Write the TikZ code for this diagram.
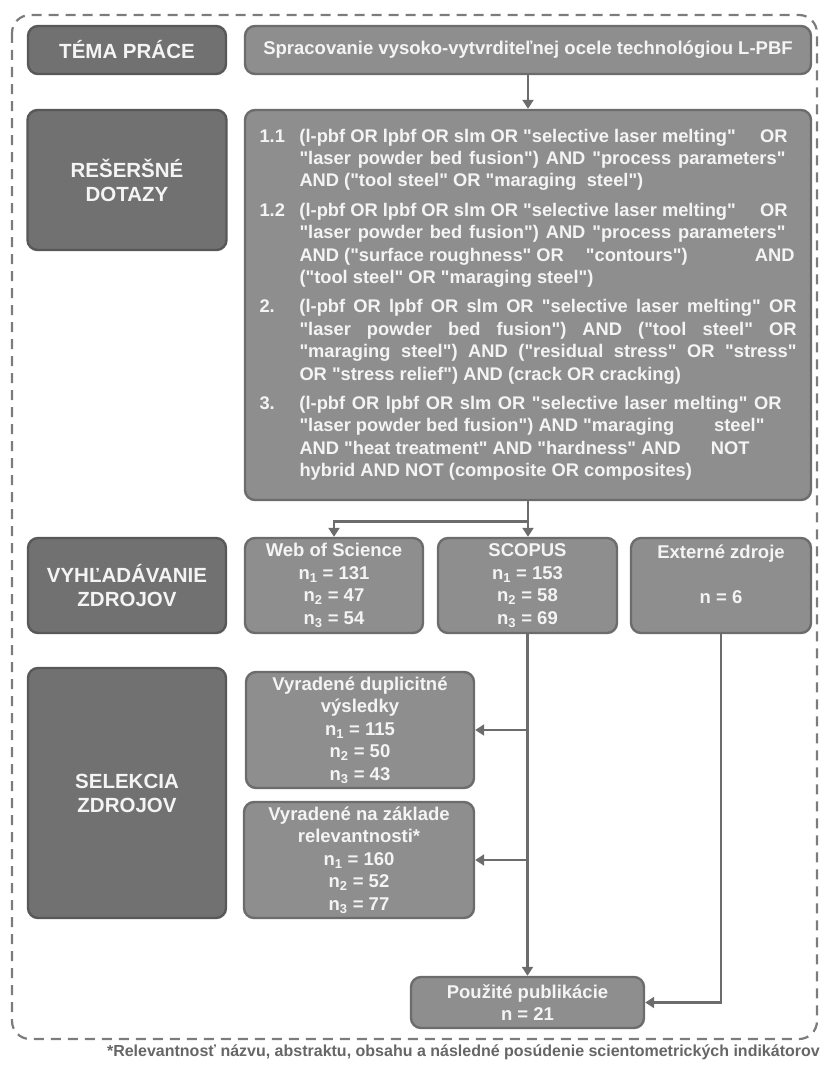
\documentclass[tikz,border=0pt]{standalone}
\usepackage{fontspec}
\setmainfont{Liberation Sans}[Ligatures=TeXOff]
\usetikzlibrary{arrows.meta,calc}
\definecolor{darkfill}{HTML}{717171}
\definecolor{darkborder}{HTML}{585858}
\definecolor{lightfill}{HTML}{8E8E8E}
\definecolor{lightborder}{HTML}{6C6C6C}
\definecolor{textcol}{HTML}{F4F4F4}
\definecolor{arrowcol}{HTML}{6C6C6C}
\definecolor{dashcol}{HTML}{7C7C7C}
\definecolor{footcol}{HTML}{666666}
\newcommand\fq{\fontsize{18.3}{22.4}\selectfont\bfseries}
\newcommand\fl{\fontsize{20.5}{24}\selectfont\bfseries}
\newcommand\fn{\fontsize{18.5}{22.5}\selectfont\bfseries}
\newcommand\qs[2]{\makebox[#1pt][s]{#2}}
\tikzset{
  labelbox/.style={draw=darkborder, fill=darkfill, line width=2.4pt, rounded corners=10pt,
    text=textcol, font=\fl, align=center, inner sep=0pt},
  infobox/.style={draw=lightborder, fill=lightfill, line width=2.4pt, rounded corners=10pt,
    text=textcol, font=\fn, align=center, inner sep=0pt},
  arr/.style={draw=arrowcol, line width=2.6pt, -{Triangle[length=9pt,width=11pt]}},
  frame/.style={draw=dashcol, line width=2.2pt, dash pattern=on 10pt off 7pt, rounded corners=18pt},
  foot/.style={text=footcol, font=\fontsize{16}{19}\selectfont\bfseries, inner sep=0pt, anchor=east}
}
\begin{document}
\begin{tikzpicture}[x=1pt,y=-1pt]
\useasboundingbox (0,0) rectangle (823,1065);
\draw[frame] (12,15) rectangle (817,1039);

% left column
\node[labelbox, minimum width=198pt, minimum height=48pt] (tema) at (127,50) {TÉMA PRÁCE};
\node[labelbox, minimum width=199pt, minimum height=140pt] (resers) at (127,180) {REŠERŠNÉ\\DOTAZY};
\node[labelbox, minimum width=198pt, minimum height=95pt] (vyhl) at (127,585.5) {VYHĽADÁVANIE\\ZDROJOV};
\node[labelbox, minimum width=198pt, minimum height=250pt] (selek) at (127,793) {SELEKCIA\\ZDROJOV};

% topic
\node[infobox, minimum width=566pt, minimum height=48pt] (topic) at (528,50) {Spracovanie vysoko-vytvrditeľnej ocele technológiou L-PBF};

% queries
\node[infobox, minimum width=566pt, minimum height=390pt, font=\fq] (queries) at (528,305) {%
\begin{tabular}{@{}p{40pt}@{}l@{}}
1.1 & \qs{488}{(l-pbf OR lpbf OR slm OR "selective laser melting"\hfill OR}\\
    & \qs{486}{"laser powder bed fusion") AND "process parameters"}\\
    & AND ("tool steel" OR "maraging\ \ steel")\\[7pt]
1.2 & \qs{488}{(l-pbf OR lpbf OR slm OR "selective laser melting"\hfill OR}\\
    & \qs{486}{"laser powder bed fusion") AND "process parameters"}\\
    & \qs{495}{AND ("surface roughness" OR\hspace{22pt}"contours")\hfill AND}\\
    & ("tool steel" OR "maraging steel")\\[7pt]
2.  & \qs{497}{(l-pbf OR lpbf OR slm OR "selective laser melting" OR}\\
    & \qs{497}{"laser powder bed fusion") AND ("tool steel" OR}\\
    & \qs{497}{"maraging steel") AND ("residual stress" OR "stress"}\\
    & OR "stress relief") AND (crack OR cracking)\\[7pt]
3.  & \qs{482}{(l-pbf OR lpbf OR slm OR "selective laser melting" OR}\\
    & \qs{465}{"laser powder bed fusion") AND "maraging\hfill steel"}\\
    & \qs{450}{AND "heat treatment" AND "hardness" AND\hfill NOT}\\
    & hybrid AND NOT (composite OR composites)
\end{tabular}};

% search row
\node[infobox, minimum width=178pt, minimum height=95pt] (wos) at (334,585.5) {Web of Science\\n\textsubscript{1} = 131\\n\textsubscript{2} = 47\\n\textsubscript{3} = 54};
\node[infobox, minimum width=179pt, minimum height=95pt] (scopus) at (527.5,585.5) {SCOPUS\\n\textsubscript{1} = 153\\n\textsubscript{2} = 58\\n\textsubscript{3} = 69};
\node[infobox, minimum width=180pt, minimum height=95pt] (ext) at (721,585.5) {Externé zdroje\\~\\n = 6\\~};

% selection
\node[infobox, minimum width=228pt, minimum height=116pt] (dupl) at (360,730) {Vyradené duplicitné\\výsledky\\n\textsubscript{1} = 115\\n\textsubscript{2} = 50\\n\textsubscript{3} = 43};
\node[infobox, minimum width=230pt, minimum height=116pt] (rel) at (359,860) {Vyradené na základe\\relevantnosti*\\n\textsubscript{1} = 160\\n\textsubscript{2} = 52\\n\textsubscript{3} = 77};
\node[infobox, minimum width=233pt, minimum height=51pt] (pouz) at (527.5,1002.5) {Použité publikácie\\n = 21};

% footnote
\node[foot] (fnote) at (820,1052) {*Relevantnosť názvu, abstraktu, obsahu a následné posúdenie scientometrických indikátorov};

% connectors
\coordinate (split) at ($(queries.south)+(0,20)$);
\draw[arr] (topic.south) -- (queries.north);
\draw[arr] (queries.south) -- (queries.south |- scopus.north);
\draw[arr] (split) -| (wos.north);
\draw[arr] (scopus.south) -- (scopus.south |- pouz.north);
\draw[arr] (scopus.south |- dupl.east) -- (dupl.east);
\draw[arr] (scopus.south |- rel.east) -- (rel.east);
\draw[arr] (ext.south) |- (pouz.east);
\end{tikzpicture}
\end{document}
